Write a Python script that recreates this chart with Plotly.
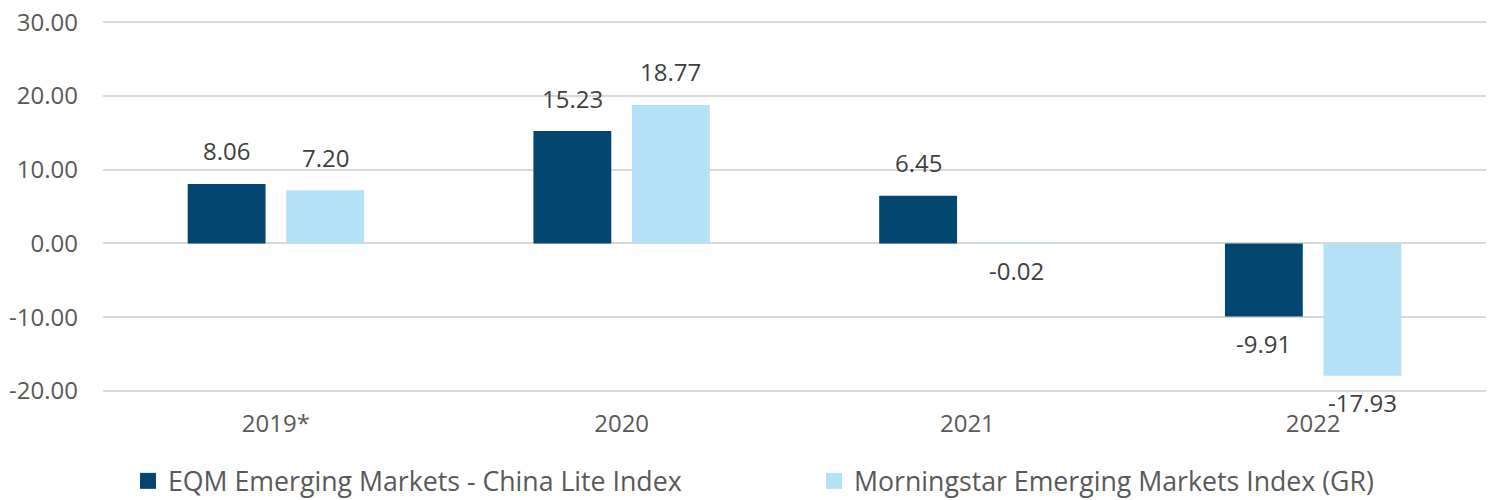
import plotly.graph_objects as go

categories = ["2019*", "2020", "2021", "2022"]
series_names = ["EQM Emerging Markets - China Lite Index", "Morningstar Emerging Markets Index (GR)"]
eqm_values = [8.06, 15.23, 6.45, -9.91]
morningstar_values = [7.20, 18.77, -0.02, -17.93]
y_ticks = [-20, -10, 0, 10, 20, 30]
y_tick_labels = ["-20.00", "-10.00", "0.00", "10.00", "20.00", "30.00"]

DARK = "#03466F"
LIGHT = "#B5E1F7"
TEXT = "#595959"
LABEL = "#404040"
FONT = "Open Sans"

fig = go.Figure()
fig.add_trace(go.Bar(x=categories, y=eqm_values, name=series_names[0], showlegend=False,
                     marker=dict(color=DARK, line=dict(width=0))))
fig.add_trace(go.Bar(x=categories, y=morningstar_values, name=series_names[1], showlegend=False,
                     marker=dict(color=LIGHT, line=dict(width=0))))
# legend entries (square swatches)
fig.add_trace(go.Scatter(x=[None], y=[None], mode="markers", name=series_names[0],
                         marker=dict(symbol="square", size=17, color=DARK), legend="legend"))
fig.add_trace(go.Scatter(x=[None], y=[None], mode="markers", name=series_names[1],
                         marker=dict(symbol="square", size=17, color=LIGHT), legend="legend2"))

annotations = []
for vals, xs in ((eqm_values, -49.25), (morningstar_values, 49.25)):
    for i, v in enumerate(vals):
        annotations.append(dict(
            x=i, y=v, xref="x", yref="y", text=f"{v:.2f}", showarrow=False,
            xshift=xs, yshift=33 if v >= 0 else -27,
            font=dict(family=FONT, size=24, color=LABEL),
        ))

legend_style = dict(orientation="h", xref="container", yref="container",
                    xanchor="left", y=0.038, yanchor="middle",
                    font=dict(family=FONT, size=26.7, color=TEXT),
                    itemclick=False, bgcolor="rgba(0,0,0,0)")

fig.update_layout(
    width=1492, height=500,
    margin=dict(l=103, r=6, t=21, b=108, autoexpand=False),
    paper_bgcolor="white", plot_bgcolor="white",
    barmode="group", bargap=0.43, bargroupgap=0.21,
    font=dict(family=FONT, size=24, color=TEXT),
    annotations=annotations,
    showlegend=True,
    legend=dict(x=128 / 1492, **legend_style),
    legend2=dict(x=814 / 1492, **legend_style),
)
fig.update_xaxes(type="category", categoryorder="array", categoryarray=categories,
                 range=[-0.5, len(categories) - 0.5],
                 showgrid=False, showline=False, ticks="", ticklabelstandoff=15,
                 tickfont=dict(family=FONT, size=24, color=TEXT))
fig.update_yaxes(range=[-20.15, 30.15], tickvals=y_ticks, ticktext=y_tick_labels,
                 showgrid=True, gridcolor="#D9D9D9", gridwidth=2,
                 zeroline=True, zerolinecolor="#D9D9D9", zerolinewidth=2,
                 showline=False, ticks="", ticklabelstandoff=24,
                 tickfont=dict(family=FONT, size=24, color=TEXT))

fig.write_html("out.html", config={"displayModeBar": False},
               post_script="document.body.style.margin='0';")
